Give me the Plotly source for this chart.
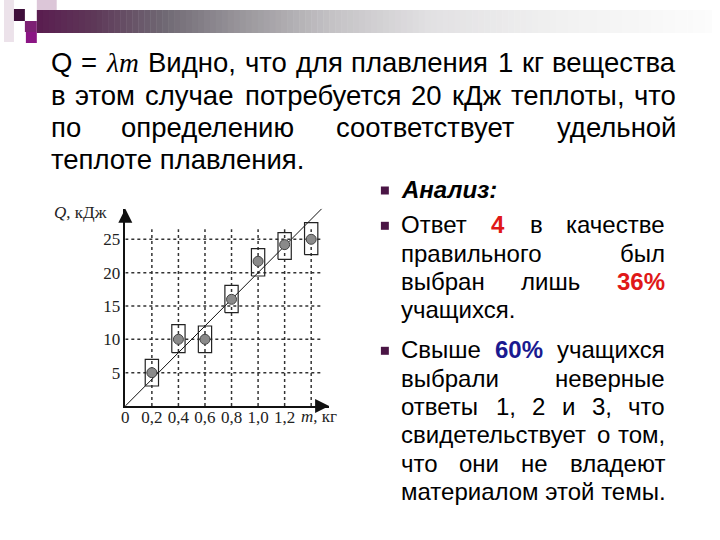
import plotly.graph_objects as go

# ---------------- data ----------------
mass = [0.2, 0.4, 0.6, 0.8, 1.0, 1.2, 1.4]
heat = [5, 10, 10, 16, 21.7, 24.2, 25]
heat_lo = [3, 8, 8, 14, 19.5, 22, 22.7]
heat_hi = [7, 12.2, 12, 18.1, 23.6, 26, 27.5]
mass_err = [0.05, 0.05, 0.05, 0.05, 0.05, 0.05, 0.05]
fit_m = [0, 1.48]
fit_q = [0, 29.6]
x_tick_vals = [0, 0.2, 0.4, 0.6, 0.8, 1.0, 1.2]
x_tick_text = ["0", "0,2", "0,4", "0,6", "0,8", "1,0", "1,2"]
y_tick_vals = [5, 10, 15, 20, 25]
y_tick_text = ["5", "10", "15", "20", "25"]
grid_m = [0.2, 0.4, 0.6, 0.8, 1.0, 1.2, 1.4]
grid_q = [5, 10, 15, 20, 25]
grid_m_end = 1.47
grid_q_end = 26.5
x_max = 1.535
y_max = 29.6

W, H = 720, 540
def px(x): return x / W
def py(y): return 1 - y / H

fig = go.Figure()

# grid (dotted)
gx, gy = [], []
for m in grid_m:
    gx += [m, m, None]; gy += [0, grid_q_end, None]
for q in grid_q:
    gx += [0, grid_m_end, None]; gy += [q, q, None]
fig.add_trace(go.Scatter(x=gx, y=gy, mode="lines", hoverinfo="skip",
                         line=dict(color="#333", width=1.5, dash="dot"), cliponaxis=False))
# fit line
fig.add_trace(go.Scatter(x=fit_m, y=fit_q, mode="lines", line=dict(color="#111", width=1),
                         cliponaxis=False))
# error boxes
bx, by = [], []
for m, e, lo, hi in zip(mass, mass_err, heat_lo, heat_hi):
    bx += [m - e, m + e, m + e, m - e, m - e, None]
    by += [lo, lo, hi, hi, lo, None]
fig.add_trace(go.Scatter(x=bx, y=by, mode="lines", line=dict(color="#222", width=1.2),
                         cliponaxis=False))
# points
fig.add_trace(go.Scatter(x=mass, y=heat, mode="markers", cliponaxis=False,
                         marker=dict(size=10, color="#8a8a8a", line=dict(color="#444", width=1))))

x0, x1 = 122, 122 + x_max * 133.5
y0, y1 = 406, 406 - y_max * 6.668
serif = "Liberation Serif"
fig.update_layout(
    width=W, height=H, margin=dict(l=0, r=0, t=0, b=0),
    paper_bgcolor="white", plot_bgcolor="rgba(0,0,0,0)", showlegend=False,
    xaxis=dict(domain=[px(x0), px(x1)], range=[0, x_max], showgrid=False, zeroline=False,
               showline=True, linecolor="#111", linewidth=1.5, ticks="",
               tickvals=x_tick_vals, ticktext=x_tick_text, ticklabelstandoff=-5,
               tickfont=dict(family=serif, size=17, color="#222")),
    yaxis=dict(domain=[py(y0), py(y1)], range=[0, y_max], showgrid=False, zeroline=False,
               showline=True, linecolor="#111", linewidth=1.5, ticks="",
               tickvals=y_tick_vals, ticktext=y_tick_text,
               tickfont=dict(family=serif, size=17, color="#222")),
)

ann = []
# axis arrow heads
ann.append(dict(x=x_max, y=0, xref="x", yref="y", ax=-14, ay=0, showarrow=True, text="",
                arrowhead=2, arrowsize=1.4, arrowwidth=2, arrowcolor="#111"))
ann.append(dict(x=0, y=y_max, xref="x", yref="y", ax=0, ay=14, showarrow=True, text="",
                arrowhead=2, arrowsize=1.4, arrowwidth=2, arrowcolor="#111"))
ann.append(dict(x=px(48), y=py(212), xref="paper", yref="paper", xanchor="left", yanchor="middle",
                text="<i>Q</i>, кДж", showarrow=False, font=dict(family=serif, size=17, color="#222")))
ann.append(dict(x=px(297), y=py(416), xref="paper", yref="paper", xanchor="left", yanchor="middle",
                text="<i>m</i>, кг", showarrow=False, font=dict(family=serif, size=17, color="#222")))

# ------------- text (justified) -------------
M = {' ': 278, ',': 278, '.': 278, ':': 278, '%': 889, '=': 584, 'Q': 778,
     'а': 556, 'б': 573, 'в': 531, 'г': 365, 'д': 583, 'е': 556, 'ж': 669, 'з': 458, 'и': 559,
     'й': 559, 'к': 438, 'л': 583, 'м': 688, 'н': 552, 'о': 556, 'п': 542, 'р': 556, 'с': 500,
     'т': 458, 'у': 500, 'ф': 823, 'х': 500, 'ц': 573, 'ч': 521, 'ш': 802, 'щ': 823, 'ъ': 625,
     'ы': 719, 'ь': 521, 'э': 510, 'ю': 750, 'я': 542, 'В': 667, 'Д': 688, 'А': 667, 'О': 778,
     'С': 722}
def wid(s, fs):
    if s == "λm":
        return 1.2 * fs
    return sum(M.get(c, 556) for c in s) / 1000 * fs

sans = "Liberation Sans"
def txt(words, left, right, base, fs, justify=True, styles=None):
    styles = styles or {}
    widths = [wid(w, fs) for w in words]
    if justify and len(words) > 1:
        gap = (right - left - sum(widths)) / (len(words) - 1)
    else:
        gap = 0.278 * fs
    x = left
    for i, (w, ww) in enumerate(zip(words, widths)):
        st = styles.get(w, {})
        fam = st.get("family", sans)
        t = st.get("fmt", "{}").format(w)
        if justify and i == len(words) - 1 and len(words) > 1:
            xa, xx = "right", right
        elif i == 0:
            xa, xx = "left", left
        else:
            xa, xx = "center", x + ww / 2
        ann.append(dict(x=px(xx), y=py(base - 0.35 * fs), xref="paper", yref="paper",
                        xanchor=xa, yanchor="middle", showarrow=False, text=t,
                        borderpad=0, borderwidth=0,
                        font=dict(family=fam, size=fs, color=st.get("color", "#000"))))
        x += ww + gap

L, R, FS = 47, 676, 27.5
lam = {"λm": {"family": serif, "fmt": "<i>{}</i>"}}
txt("Q = λm Видно, что для плавления 1 кг вещества".split(), L, R, 72.5, FS, styles=lam)
txt("в этом случае потребуется 20 кДж теплоты, что".split(), L, R, 104.7, FS)
txt("по определению соответствует удельной".split(), L, R, 136.9, FS)
txt(["теплоте плавления."], L, R, 169.1, FS, justify=False)

RL, RR, RF = 399, 665, 24
red = {"color": "#e01818", "fmt": "<b>{}</b>"}
blue = {"color": "#1a1a90", "fmt": "<b>{}</b>"}
txt(["Анализ:"], RL, RR, 198, RF, justify=False, styles={"Анализ:": {"fmt": "<b><i>{}</i></b>"}})
txt("Ответ 4 в качестве".split(), RL, RR, 233.3, RF, styles={"4": red})
txt("правильного был".split(), RL, RR, 261.6, RF)
txt("выбран лишь 36%".split(), RL, RR, 289.9, RF, styles={"36%": red})
txt(["учащихся."], RL, RR, 318.2, RF, justify=False)
txt("Свыше 60% учащихся".split(), RL, RR, 358.3, RF, styles={"60%": blue})
txt("выбрали неверные".split(), RL, RR, 386.6, RF)
txt("ответы 1, 2 и 3, что".split(), RL, RR, 414.9, RF)
txt("свидетельствует о том,".split(), RL, RR, 443.2, RF)
txt("что они не владеют".split(), RL, RR, 471.5, RF)
txt(["материалом этой темы."], RL, RR, 499.8, RF, justify=False)

# ------------- decoration shapes -------------
shapes = []
def rect(x0_, y0_, x1_, y1_, col):
    shapes.append(dict(type="rect", xref="paper", yref="paper", x0=px(x0_), x1=px(x1_),
                       y0=py(y1_), y1=py(y0_), fillcolor=col, line=dict(width=0), layer="below"))

stops = [(33, (0x5a, 0x1d, 0x50)), (90, (0x5e, 0x38, 0x58)), (160, (0x6f, 0x68, 0x73)),
         (240, (0x9a, 0x97, 0x9c)), (330, (0xc4, 0xc2, 0xc5)), (430, (0xe2, 0xe1, 0xe3)),
         (560, (0xf1, 0xf1, 0xf1)), (712, (0xfc, 0xfc, 0xfc))]
step = 6
xx = stops[0][0]
while xx < stops[-1][0]:
    xm = xx + step / 2
    for (a, ca), (b, cb) in zip(stops[:-1], stops[1:]):
        if a <= xm <= b:
            t = (xm - a) / (b - a)
            c = tuple(int(round(ca[k] + (cb[k] - ca[k]) * t)) for k in range(3))
            break
    rect(xx, 10, min(xx + step + 0.5, stops[-1][0]), 33, "rgb(%d,%d,%d)" % c)
    xx += step
rect(0, 0, 10, 42, "#ece2ea")
rect(33, 0, 53, 10, "#dcc6d8")
rect(10, 9, 21, 21, "#3e0e3a")
rect(21, 21, 33, 32, "#7d2074")
rect(22, 32, 33, 43, "#8b1584")
# bullets
for b in [198, 233.3, 358.3]:
    rect(379, b - 11.5, 387, b - 3.5, "#4a1545")

fig.update_layout(annotations=ann, shapes=shapes)
fig.write_html("out.html", config={"displayModeBar": False},
               post_script="document.body.style.margin='0';document.body.style.overflow='hidden';")
